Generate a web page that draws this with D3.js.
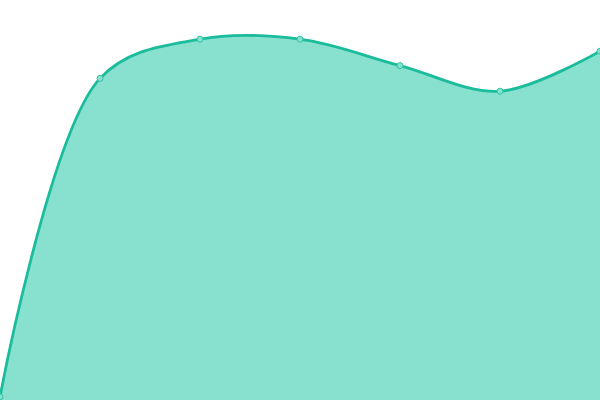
<!DOCTYPE html>
<html>
<head>
<meta charset="utf-8">
<script src="https://cdn.jsdelivr.net/npm/d3@7"></script>
<style>
  html, body { margin: 0; padding: 0; background: #fff; }
  svg { display: block; }
</style>
</head>
<body>
<div id="chart"></div>
<script>
// Werte
const steps = [0, 1, 2, 3, 4, 5, 6];
const values = [0.8, 80.4, 90.2, 90.2, 83.6, 77.2, 87.2];

const width = 600, height = 400;

const svg = d3.select("#chart")
    .append("svg")
    .attr("width", width)
    .attr("height", height);

const x = d3.scaleLinear().domain([0, 6]).range([0, width]);
const y = d3.scaleLinear().domain([0, 100]).range([height, 0]);

const data = steps.map((s, i) => ({ s, v: values[i] }));

// Fläche + Linie mit gleicher Kurve
const area = d3.area()
    .x(d => x(d.s))
    .y0(height)
    .y1(d => y(d.v))
    .curve(d3.curveCatmullRom);

const line = d3.line()
    .x(d => x(d.s))
    .y(d => y(d.v))
    .curve(d3.curveCatmullRom);

svg.append("path")
    .datum(data)
    .attr("fill", "#88e0cf")
    .attr("d", area);

svg.append("path")
    .datum(data)
    .attr("fill", "none")
    .attr("stroke", "#1abc9c")
    .attr("stroke-width", 2.8)
    .attr("d", line);

// Punkte
svg.selectAll("circle")
    .data(data)
    .join("circle")
    .attr("cx", d => x(d.s))
    .attr("cy", d => y(d.v))
    .attr("r", 3)
    .attr("fill", "#88e0cf")
    .attr("stroke", "#2ec4a6")
    .attr("stroke-width", 1);
</script>
</body>
</html>
